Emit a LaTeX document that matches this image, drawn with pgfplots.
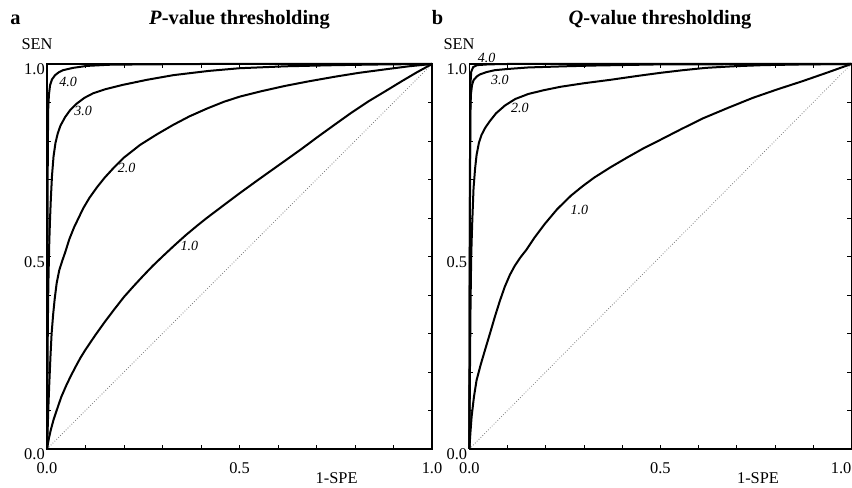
\documentclass[border=0pt]{standalone}
\usepackage{fontspec}
\setmainfont{Liberation Serif}
\usepackage{pgfplots}
\pgfplotsset{compat=1.18}

% 1 px of the reference = 0.75pt
\pgfplotsset{
  rocax/.style={
    scale only axis, height=288.75pt,
    xmin=0, xmax=1, ymin=0, ymax=1,
    xtick={0,0.5,1}, ytick={0,0.5,1},
    yticklabels={0.0,0.5,1.0},
    minor tick num=4,
    tick align=inside, major tick length=3pt, minor tick length=3pt,
    tick style={line width=0.6pt, black},
    axis line style={line width=1.1pt},
    tick label style={font=\fontsize{12.3}{14}\selectfont},
    xticklabel style={anchor=north, inner sep=0pt, yshift=-10pt},
    yticklabel style={anchor=north east, inner sep=0pt, xshift=-1.5pt, yshift=0.5pt},
    clip=false,
  },
  roc/.style={black, line width=1.5pt, line join=round, sharp plot},
  diag/.style={gray, line width=0.6pt, dash pattern=on 0.6pt off 1.4pt},
}
\tikzset{clab/.style={font=\fontsize{10.5}{12}\selectfont\itshape, inner sep=0pt}}

\begin{document}
\begin{tikzpicture}
\begin{axis}[rocax, width=288.75pt, at={(35.25pt,29.25pt)}, anchor=south west,
  xticklabels={0.0,0.5,1.0}]
\addplot[diag] coordinates {(0,0)(1,1)};
% 4.0
\addplot[roc] coordinates {(0,0)(0.001,0.45)(0.002,0.75)(0.003,0.88)(0.005,0.92)(0.008,0.945)(0.013,0.96)(0.021,0.971)(0.03,0.978)(0.042,0.984)(0.068,0.99)(0.103,0.995)(0.16,0.998)(0.25,0.999)(0.4,1)(1,1)};
% 3.0
\addplot[roc] coordinates {(0,0)(0.001,0.15)(0.002,0.3)(0.003,0.39)(0.004,0.45)(0.006,0.54)(0.008,0.6)(0.01,0.65)(0.013,0.71)(0.017,0.76)(0.022,0.795)(0.028,0.82)(0.035,0.84)(0.047,0.862)(0.06,0.88)(0.077,0.897)(0.097,0.912)(0.12,0.924)(0.15,0.934)(0.198,0.946)(0.26,0.959)(0.328,0.971)(0.42,0.982)(0.5,0.989)(0.62,0.994)(0.75,0.997)(0.88,0.999)(1,1)};
% 2.0
\addplot[roc] coordinates {(0,0)(0.002,0.06)(0.004,0.12)(0.006,0.171)(0.009,0.24)(0.012,0.3)(0.016,0.35)(0.02,0.39)(0.025,0.43)(0.032,0.465)(0.04,0.49)(0.047,0.51)(0.058,0.545)(0.07,0.575)(0.082,0.6)(0.094,0.625)(0.11,0.652)(0.13,0.68)(0.15,0.705)(0.172,0.729)(0.2,0.757)(0.242,0.79)(0.285,0.817)(0.328,0.842)(0.37,0.864)(0.415,0.884)(0.46,0.902)(0.5,0.915)(0.56,0.93)(0.618,0.943)(0.68,0.955)(0.748,0.967)(0.81,0.977)(0.878,0.986)(0.94,0.994)(1,1)};
% 1.0
\addplot[roc] coordinates {(0,0)(0.005,0.028)(0.01,0.05)(0.017,0.076)(0.025,0.1)(0.037,0.135)(0.05,0.165)(0.062,0.19)(0.075,0.215)(0.087,0.237)(0.1,0.258)(0.125,0.295)(0.15,0.33)(0.175,0.363)(0.2,0.395)(0.225,0.423)(0.25,0.45)(0.275,0.476)(0.3,0.5)(0.33,0.528)(0.36,0.555)(0.39,0.58)(0.415,0.6)(0.46,0.634)(0.5,0.664)(0.54,0.693)(0.575,0.718)(0.62,0.75)(0.662,0.78)(0.705,0.812)(0.748,0.843)(0.79,0.873)(0.835,0.903)(0.88,0.93)(0.921,0.955)(0.96,0.978)(1,1)};
\node[clab] at (axis cs:0.055,0.954) {4.0};
\node[clab] at (axis cs:0.094,0.878) {3.0};
\node[clab] at (axis cs:0.207,0.729) {2.0};
\node[clab] at (axis cs:0.370,0.528) {1.0};
\end{axis}

\begin{axis}[rocax, width=286.5pt, at={(352pt,29.25pt)}, anchor=south west,
  xticklabels={0.0,0.5,\makebox[0pt][r]{1.0}}]
\addplot[diag] coordinates {(0,0)(1,1)};
% 4.0
\addplot[roc] coordinates {(0,0)(0.001,0.5)(0.002,0.85)(0.003,0.95)(0.005,0.98)(0.01,0.992)(0.02,0.997)(0.05,0.999)(0.1,1)(1,1)};
% 3.0
\addplot[roc] coordinates {(0,0)(0.001,0.4)(0.002,0.75)(0.003,0.88)(0.004,0.92)(0.007,0.945)(0.011,0.958)(0.02,0.968)(0.028,0.973)(0.045,0.979)(0.067,0.984)(0.1,0.987)(0.154,0.991)(0.25,0.994)(0.327,0.996)(0.5,0.999)(1,1)};
% 2.0
\addplot[roc] coordinates {(0,0)(0.001,0.12)(0.002,0.25)(0.003,0.36)(0.004,0.44)(0.005,0.504)(0.0065,0.555)(0.008,0.6)(0.011,0.677)(0.015,0.728)(0.019,0.764)(0.025,0.795)(0.032,0.816)(0.042,0.835)(0.054,0.852)(0.07,0.872)(0.093,0.892)(0.12,0.909)(0.154,0.922)(0.195,0.932)(0.24,0.941)(0.3,0.95)(0.37,0.959)(0.44,0.969)(0.5,0.977)(0.56,0.984)(0.62,0.99)(0.69,0.994)(0.768,0.997)(0.88,0.999)(1,1)};
% 1.0
\addplot[roc] coordinates {(0,0)(0.003,0.045)(0.006,0.084)(0.012,0.135)(0.019,0.179)(0.03,0.22)(0.041,0.257)(0.054,0.3)(0.067,0.344)(0.08,0.385)(0.093,0.422)(0.106,0.452)(0.119,0.476)(0.134,0.498)(0.149,0.517)(0.172,0.551)(0.197,0.584)(0.23,0.623)(0.266,0.658)(0.297,0.683)(0.327,0.705)(0.37,0.732)(0.413,0.757)(0.456,0.781)(0.5,0.803)(0.555,0.831)(0.612,0.859)(0.677,0.886)(0.742,0.912)(0.806,0.934)(0.871,0.955)(0.935,0.977)(1,1)};
\node[clab] at (axis cs:0.045,1.016) {4.0};
\node[clab] at (axis cs:0.080,0.958) {3.0};
\node[clab] at (axis cs:0.132,0.885) {2.0};
\node[clab] at (axis cs:0.288,0.621) {1.0};
\end{axis}

% panel letters, titles, axis names
\node[anchor=base, font=\fontsize{15.3}{18}\selectfont\bfseries] at (11.6pt,347.25pt) {a};
\node[anchor=base, font=\fontsize{15.3}{18}\selectfont\bfseries] at (179.6pt,347.25pt) {\textit{P}-value thresholding};
\node[anchor=base, font=\fontsize{15.3}{18}\selectfont\bfseries] at (328.1pt,347.25pt) {b};
\node[anchor=base, font=\fontsize{15.3}{18}\selectfont\bfseries] at (495pt,347.25pt) {\textit{Q}-value thresholding};
\node[anchor=base, font=\fontsize{12.3}{14}\selectfont] at (27.75pt,328.5pt) {SEN};
\node[anchor=base, font=\fontsize{12.3}{14}\selectfont] at (344.25pt,328.5pt) {SEN};
\node[anchor=base, font=\fontsize{12.3}{14}\selectfont] at (252.5pt,3pt) {1-SPE};
\node[anchor=base, font=\fontsize{12.3}{14}\selectfont] at (568.5pt,3pt) {1-SPE};

\pgfresetboundingbox
\useasboundingbox (0,0) rectangle (639pt,366pt);
\end{tikzpicture}
\end{document}
